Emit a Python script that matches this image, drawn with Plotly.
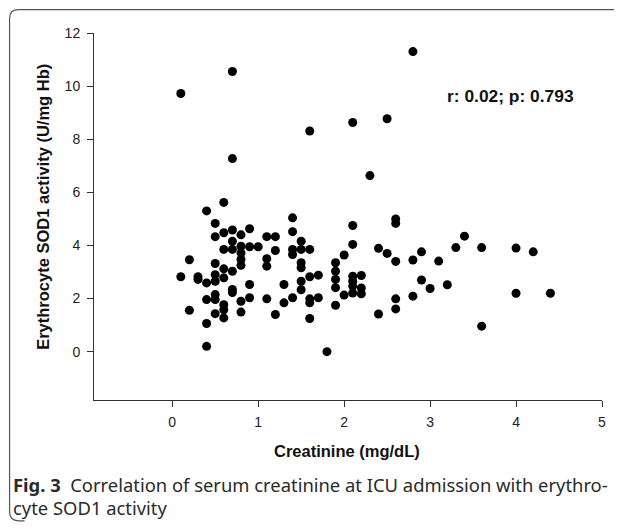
import plotly.graph_objects as go

# Creatinine (mg/dL) values, grouped by column, with SOD1 activity (U/mg Hb)
creatinine = [
    0.1, 0.1,
    0.2, 0.2,
    0.3, 0.3,
    0.4, 0.4, 0.4, 0.4, 0.4,
    0.5, 0.5, 0.5, 0.5, 0.5, 0.5, 0.5, 0.5,
    0.6, 0.6, 0.6, 0.6, 0.6, 0.6, 0.6, 0.6,
    0.7, 0.7, 0.7, 0.7, 0.7, 0.7, 0.7, 0.7,
    0.8, 0.8, 0.8, 0.8, 0.8, 0.8, 0.8,
    0.9, 0.9, 0.9, 0.9,
    1.0,
    1.1, 1.1, 1.1, 1.1,
    1.2, 1.2, 1.2,
    1.3, 1.3,
    1.4, 1.4, 1.4, 1.4, 1.4,
    1.5, 1.5, 1.5, 1.5, 1.5, 1.5,
    1.6, 1.6, 1.6, 1.6, 1.6, 1.6,
    1.7, 1.7,
    1.8,
    1.9, 1.9, 1.9, 1.9, 1.9,
    2.0, 2.0,
    2.1, 2.1, 2.1, 2.1, 2.1, 2.1, 2.1,
    2.2, 2.2, 2.2,
    2.3,
    2.4, 2.4,
    2.5, 2.5,
    2.6, 2.6, 2.6, 2.6, 2.6,
    2.8, 2.8, 2.8,
    2.9, 2.9,
    3.0,
    3.1,
    3.2,
    3.3,
    3.4,
    3.6, 3.6,
    4.0, 4.0,
    4.2,
    4.4,
]
sod1 = [
    9.72, 2.82,
    3.46, 1.56,
    2.82, 2.72,
    5.30, 2.59, 1.96, 1.06, 0.20,
    4.83, 4.33, 3.32, 2.90, 2.65, 2.15, 1.96, 1.43,
    5.62, 4.48, 3.85, 3.12, 2.78, 1.77, 1.58, 1.27,
    10.55, 7.27, 4.58, 4.16, 3.85, 3.03, 2.34, 2.23,
    4.40, 3.97, 3.72, 3.47, 3.25, 1.90, 1.49,
    4.63, 3.95, 2.53, 2.03,
    3.95,
    4.33, 3.50, 3.22, 1.99,
    4.33, 3.81, 1.40,
    2.53, 1.84,
    5.04, 4.52, 3.85, 3.66, 2.03,
    4.16, 3.85, 3.35, 3.16, 2.65, 2.33,
    8.31, 3.85, 2.82, 1.99, 1.84, 1.25,
    2.88, 2.03,
    0.00,
    3.35, 3.03, 2.72, 2.41, 1.75,
    3.64, 2.13,
    8.63, 4.75, 4.04, 2.84, 2.65, 2.47, 2.21,
    2.87, 2.40, 2.18,
    6.63,
    3.89, 1.42,
    8.77, 3.70,
    5.00, 4.83, 3.40, 1.99, 1.61,
    11.30, 3.45, 2.09,
    3.76, 2.70,
    2.38,
    3.41,
    2.52,
    3.92,
    4.35,
    3.92, 0.96,
    3.90, 2.20,
    3.76,
    2.20,
]

x_ticks = [0, 1, 2, 3, 4, 5]
y_ticks = [0, 2, 4, 6, 8, 10, 12]
stat_text = "r: 0.02; p: 0.793"
x_title = "Creatinine (mg/dL)"
y_title = "Erythrocyte SOD1 activity (U/mg Hb)"
caption_bold = "Fig. 3"
caption_line1 = "Correlation of serum creatinine at ICU admission with erythro-"
caption_line2 = "cyte SOD1 activity"

# the page body has an 8px margin, so work in window pixels minus 8
OFF = 8
W, H = 622 - OFF, 528 - OFF
L, R, T, B = 94 - OFF, 602.5 - OFF, 33 - OFF, 400.5 - OFF


def px(xw):
    return (xw - OFF - L) / (R - L)


def py(yw):
    return (B - (yw - OFF)) / (B - T)


fig = go.Figure()
fig.add_trace(go.Scatter(
    x=creatinine, y=sod1, mode="markers",
    marker=dict(color="black", size=9, line=dict(width=0)),
    showlegend=False, hoverinfo="x+y",
))

ARIAL = "Arial"
axis_font = dict(family=ARIAL, size=14, color="#222")
fig.update_layout(
    width=W, height=H, autosize=False,
    margin=dict(l=L, r=W - R, t=T, b=H - B, pad=0),
    paper_bgcolor="white", plot_bgcolor="white",
    font=dict(family=ARIAL),
    xaxis=dict(
        range=[-0.91, 5.0], tickvals=x_ticks, ticktext=[str(v) for v in x_ticks],
        showgrid=False, zeroline=False, showline=True, linecolor="#333", linewidth=1,
        ticks="outside", ticklen=6, tickcolor="#333", tickfont=axis_font,
        ticklabelstandoff=3,
    ),
    yaxis=dict(
        range=[-1.82, 12.0], tickvals=y_ticks, ticktext=[str(v) for v in y_ticks],
        showgrid=False, zeroline=False, showline=True, linecolor="#333", linewidth=1,
        ticks="outside", ticklen=6, tickcolor="#333", tickfont=axis_font,
        ticklabelstandoff=4,
    ),
)

bold_font = dict(family=ARIAL, size=16.5, color="#111")
cap_font = dict(family="Noto Sans", size=18.4, color="#2a2a2a")
annotations = [
    dict(text="<b>" + stat_text + "</b>", x=3.94, y=9.61, xref="x", yref="y",
         showarrow=False, font=dict(family=ARIAL, size=17.4, color="#111"),
         xanchor="center", yanchor="middle"),
    dict(text="<b>" + x_title + "</b>", x=px(347), y=py(452), xref="paper", yref="paper",
         showarrow=False, font=bold_font, xanchor="center", yanchor="middle"),
    dict(text="<b>" + y_title + "</b>", x=px(43), y=py(207), xref="paper", yref="paper",
         showarrow=False, font=bold_font, textangle=-90, xanchor="center", yanchor="middle"),
    dict(text="<b>" + caption_bold + "</b>  " + caption_line1, x=px(11), y=py(485),
         xref="paper", yref="paper", showarrow=False, font=cap_font,
         xanchor="left", yanchor="middle"),
    dict(text=caption_line2, x=px(11), y=py(508),
         xref="paper", yref="paper", showarrow=False, font=cap_font,
         xanchor="left", yanchor="middle"),
]
fig.update_layout(annotations=annotations)

# rounded frame (top and left edges visible in the reference), window pixels
x0, y0, y1, r = 9.5, 9.5, 521.5, 9
path = (f"M {px(640)},{py(y0)} L {px(x0 + r)},{py(y0)} "
        f"Q {px(x0)},{py(y0)} {px(x0)},{py(y0 + r)} "
        f"L {px(x0)},{py(y1 - r)} Q {px(x0)},{py(y1)} {px(x0 + r)},{py(y1)} "
        f"L {px(x0 + r + 6)},{py(y1)}")
fig.add_shape(type="path", path=path, xref="paper", yref="paper",
              line=dict(color="#555", width=1.2), layer="below")

fig.write_html("out.html")
